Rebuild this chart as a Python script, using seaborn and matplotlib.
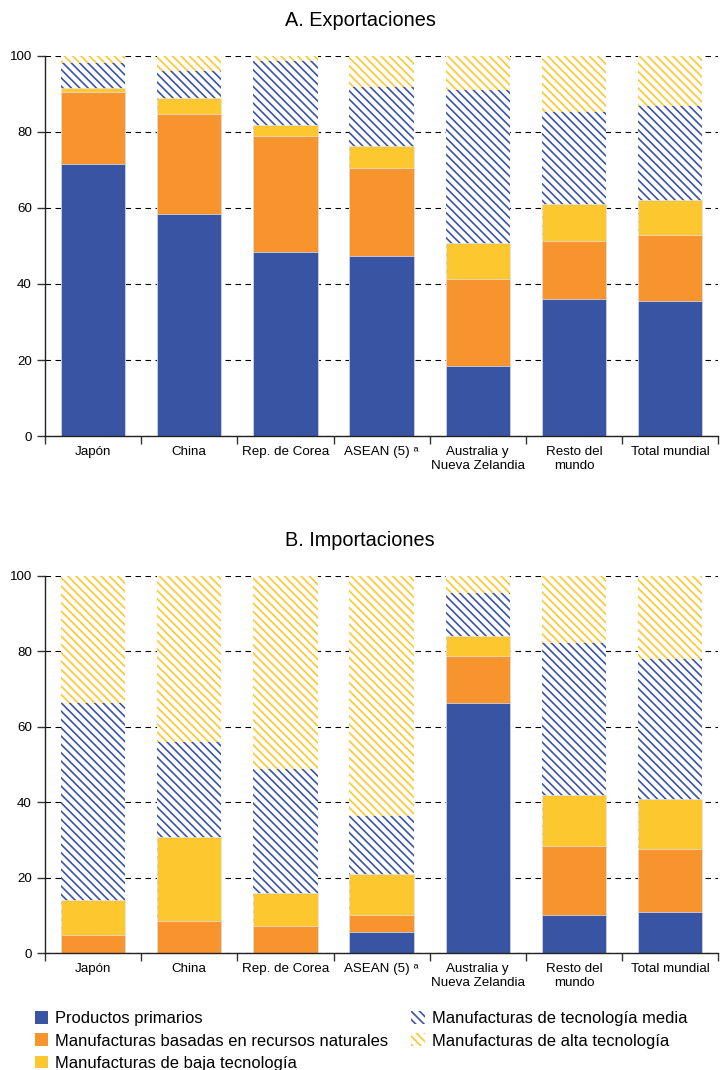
import matplotlib
matplotlib.use('Agg')
import matplotlib.pyplot as plt
from matplotlib.patches import Patch
import seaborn as sns
import numpy as np

regions = ['Japón', 'China', 'Rep. de Corea', 'ASEAN (5) ᵃ',
           'Australia y\nNueva Zelandia', 'Resto del\nmundo', 'Total mundial']

series = ['Productos primarios', 'Manufacturas basadas en recursos naturales',
          'Manufacturas de baja tecnología', 'Manufacturas de tecnología media',
          'Manufacturas de alta tecnología']

# A. Exportaciones, shares in %
exp_primarios = [71.5, 58.4, 48.5, 47.4, 18.5, 36.0, 35.4]
exp_recursos = [19.1, 26.2, 30.5, 23.0, 22.9, 15.2, 17.5]
exp_baja = [1.1, 4.3, 2.8, 6.0, 9.4, 9.9, 9.3]
exp_media = [6.5, 7.2, 17.0, 15.4, 40.3, 24.1, 24.7]
exp_alta = [1.8, 3.9, 1.2, 8.2, 8.9, 14.8, 13.1]

# B. Importaciones, shares in %
imp_primarios = [0.0, 0.0, 0.0, 5.7, 66.4, 10.2, 10.8]
imp_recursos = [4.9, 8.4, 7.3, 4.5, 12.5, 18.1, 16.9]
imp_baja = [9.2, 22.3, 8.6, 10.8, 5.1, 13.7, 13.2]
imp_media = [52.2, 25.4, 32.9, 15.4, 11.4, 40.3, 37.1]
imp_alta = [33.7, 43.9, 51.2, 63.6, 4.6, 17.7, 22.0]

blue = '#3A54A4'
orange = '#F7942D'
yellow = '#FDC82F'

plt.rcParams['font.family'] = ['Liberation Sans', 'DejaVu Sans']
plt.rcParams['hatch.linewidth'] = 1.2


def draw_panel(ax, layers):
    cums = np.cumsum(np.array(layers), axis=0)
    styles = [
        dict(color=blue),
        dict(color=orange),
        dict(color=yellow),
        dict(color='white', hatch='\\\\\\\\', edgecolor=blue),
        dict(color='white', hatch='\\\\\\\\', edgecolor=yellow),
    ]
    # draw from the top of the stack down so each layer covers the next
    for i in range(4, -1, -1):
        kw = dict(styles[i])
        if 'edgecolor' not in kw:
            kw['edgecolor'] = '#dfe3ef'
            lw = 0.5
        else:
            lw = 0
        sns.barplot(x=regions, y=cums[i], ax=ax, width=0.67, saturation=1,
                    linewidth=lw, **kw)
    ax.set_ylim(0, 100)
    ax.set_xlim(-0.5, 6.5)
    ax.set_yticks([0, 20, 40, 60, 80, 100])
    ax.yaxis.grid(True, color='black', linestyle=(0, (5, 4)), linewidth=0.8)
    ax.set_axisbelow(True)
    ax.set_xticks(np.arange(-0.5, 7, 1), minor=True)
    ax.tick_params(axis='x', which='major', length=0, labelsize=9.6, pad=7)
    ax.tick_params(axis='x', which='minor', length=6, width=1, color='#333333')
    ax.tick_params(axis='y', length=6, width=1, labelsize=9.6, color='#333333')
    for s in ['top', 'right']:
        ax.spines[s].set_visible(False)
    for s in ['left', 'bottom']:
        ax.spines[s].set_color('#222222')
        ax.spines[s].set_linewidth(1)
    ax.set_xlabel('')
    ax.set_ylabel('')
    for lab in ax.get_xticklabels():
        lab.set_linespacing(1.25)


fig = plt.figure(figsize=(7.2, 10.7), dpi=100)
ax1 = fig.add_axes([0.0625, 0.5925, 0.935, 0.3552])
ax2 = fig.add_axes([0.0625, 0.1093, 0.935, 0.3524])

draw_panel(ax1, [exp_primarios, exp_recursos, exp_baja, exp_media, exp_alta])
draw_panel(ax2, [imp_primarios, imp_recursos, imp_baja, imp_media, imp_alta])

fig.text(0.5, 0.981, 'A. Exportaciones', ha='center', va='center', fontsize=14.3)
fig.text(0.5, 0.4944, 'B. Importaciones', ha='center', va='center', fontsize=14.3)

handles = [
    Patch(facecolor=blue, edgecolor=blue, linewidth=0),
    Patch(facecolor=orange, edgecolor=orange, linewidth=0),
    Patch(facecolor=yellow, edgecolor=yellow, linewidth=0),
    Patch(facecolor='white', edgecolor=blue, hatch='\\\\\\\\', linewidth=0),
    Patch(facecolor='white', edgecolor=yellow, hatch='\\\\\\\\', linewidth=0),
]
fig.legend(handles, series, loc='upper left', bbox_to_anchor=(0.048, 0.055),
           ncols=2, frameon=False, fontsize=11.9, handlelength=0.8,
           handleheight=0.8, handletextpad=0.45, labelspacing=0.44,
           columnspacing=1.4, borderaxespad=0, borderpad=0)

fig.savefig('out.png', dpi=100)
